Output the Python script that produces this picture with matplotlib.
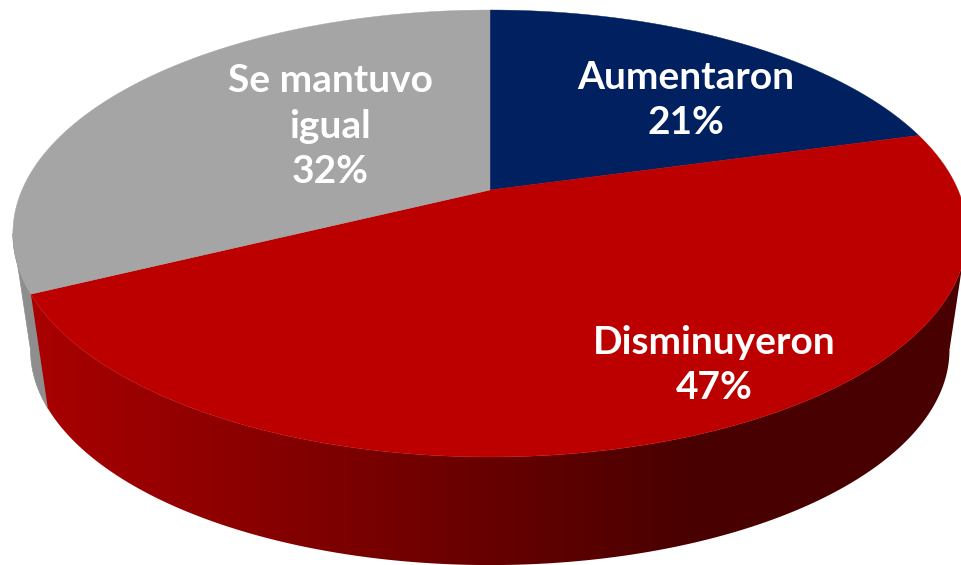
import matplotlib
matplotlib.use("Agg")
import matplotlib.pyplot as plt
from matplotlib.patches import Polygon
import numpy as np

categorias = ["Aumentaron", "Disminuyeron", "Se mantuvo\nigual"]
valores = [20.7, 47.0, 32.3]
colores = ["#002060", "#BC0000", "#A5A5A5"]

# centro de cada rotulo, en pixeles
pos_rotulos = [(686, 100), (714, 365), (330, 126)]

# perspectiva de la tapa del pastel
CX, CY = 490, 190
A, B, K = 468, 215, 0.1946
# base: un poco mas chica y mas abajo
ESCALA_BASE, CY_BASE = 0.963, 308
# angulos donde el contorno pasa de la tapa a la base
BORDE_DER = np.arccos(-K) / (2 * np.pi)
BORDE_IZQ = 1 - BORDE_DER


def proyectar(ang, escala=1.0, cy=CY):
    # ang en fracciones de vuelta, desde arriba y en sentido horario
    t = 2 * np.pi * np.asarray(ang)
    u, v = np.sin(t), np.cos(t)
    w = 1 + K * v
    return CX + escala * A * u / w, cy - escala * B * v / w


def contorno_lateral(a0, a1):
    ang = np.linspace(a0, a1, 300)
    xs, ys = proyectar(ang)
    xb, yb = proyectar(ang, ESCALA_BASE, CY_BASE)
    return np.c_[np.r_[xs, xb[::-1]], np.r_[ys, yb[::-1]]]


fig = plt.figure(figsize=(9.61, 5.65), dpi=100)
ax = fig.add_axes([0, 0, 1, 1])

limites = np.cumsum([0] + valores) / sum(valores)

# lateral gris (solo asoma a la izquierda)
ax.add_patch(Polygon(contorno_lateral(limites[2], BORDE_IZQ), color="#8E8E8E", lw=0.5, zorder=1))

# lateral rojo: degradado horizontal recortado al contorno
columnas = np.clip((np.arange(961) - 40) / 660, 0, 1)
rojo = np.zeros((1, 961, 3))
rojo[0, :, 0] = (168 - 96 * columnas) / 255
img = ax.imshow(rojo, extent=(0, 961, 565, 0), aspect="auto", zorder=2)
borde = Polygon(contorno_lateral(max(limites[1], BORDE_DER), limites[2]),
                transform=ax.transData, fill=False, lw=0)
ax.add_patch(borde)
img.set_clip_path(borde)

# tapa
for i, c in enumerate(colores):
    ang = np.linspace(limites[i], limites[i + 1], 200)
    x, y = proyectar(ang)
    ax.fill(np.r_[CX, x], np.r_[CY, y], color=c, lw=0.3, zorder=3)

for nombre, valor, (tx, ty) in zip(categorias, valores, pos_rotulos):
    ax.text(tx, ty, f"{nombre}\n{valor:.0f}%", color="white", ha="center", va="center",
            fontsize=28, fontweight="bold", family="Lato", linespacing=1.36, zorder=4)

ax.set_xlim(0, 961)
ax.set_ylim(565, 0)
ax.axis("off")

fig.savefig("out.png", dpi=100)
